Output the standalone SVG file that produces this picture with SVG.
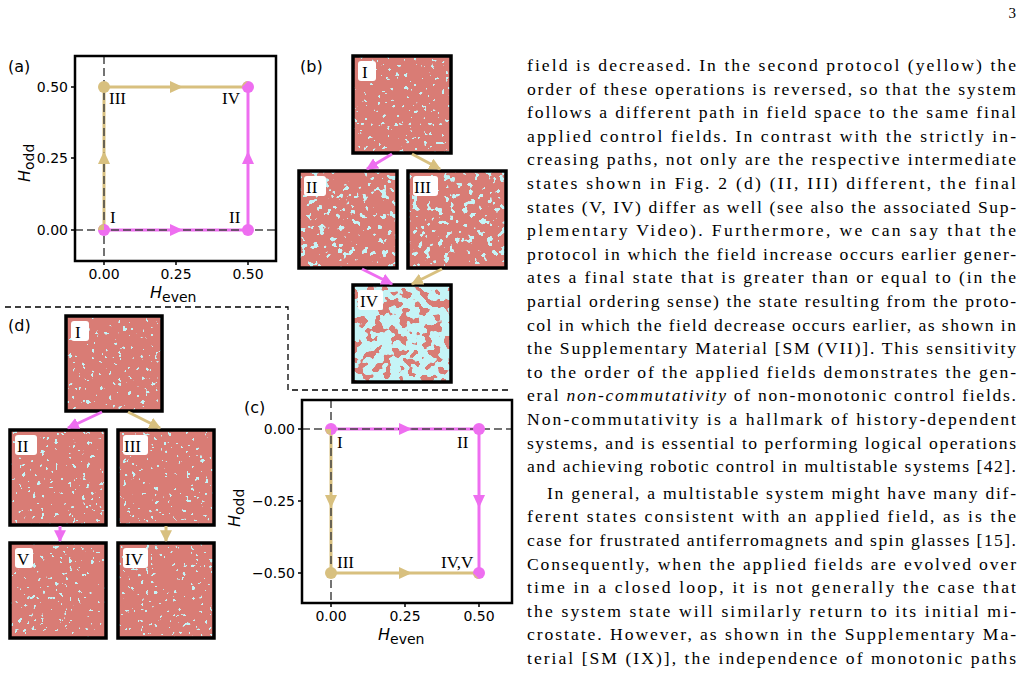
<svg xmlns="http://www.w3.org/2000/svg" width="1026" height="677" viewBox="0 0 1026 677">
<style>
.frame{fill:none;stroke:#000;stroke-width:2.5}
.tile{stroke:#000;stroke-width:3.5}
.ax{stroke:#444;stroke-width:2;stroke-dasharray:8 4;opacity:.75;fill:none}
.mg{stroke:#ee6ef0;stroke-width:3;fill:none}
.tn{stroke:#d8c07f;stroke-width:3;fill:none}
.tk{font-family:"DejaVu Sans",sans-serif;font-size:14px;fill:#000}
.pl{font-family:"DejaVu Sans",sans-serif;font-size:16px;fill:#000}
.rn{font-family:"Liberation Serif","DejaVu Serif",serif;font-size:17px;fill:#000}
.bt{font-family:"Liberation Serif",serif;font-size:17.6px;fill:#000}
.lab{fill:#fff}
.dash{fill:none;stroke:#000;stroke-width:1.3;stroke-dasharray:6 4}
</style>
<defs>
<filter id="sparse" x="0" y="0" width="1" height="1">
<feTurbulence type="fractalNoise" baseFrequency="0.22" numOctaves="2" seed="3" result="n"/>
<feColorMatrix in="n" type="matrix" values="0 0 0 0 0.56 0 0 0 0 0.9 0 0 0 0 0.92 1 0 0 0 0" result="c"/>
<feComponentTransfer in="c"><feFuncA type="linear" slope="40" intercept="-27.6"/></feComponentTransfer>
<feComposite in2="SourceGraphic" operator="over"/>
</filter>
<filter id="mid" x="0" y="0" width="1" height="1">
<feTurbulence type="fractalNoise" baseFrequency="0.16" numOctaves="2" seed="7" result="n"/>
<feColorMatrix in="n" type="matrix" values="0 0 0 0 0.56 0 0 0 0 0.9 0 0 0 0 0.92 1 0 0 0 0" result="c"/>
<feComponentTransfer in="c"><feFuncA type="linear" slope="40" intercept="-24.8"/></feComponentTransfer>
<feComposite in2="SourceGraphic" operator="over"/>
</filter>
<filter id="dense" x="0" y="0" width="1" height="1">
<feTurbulence type="fractalNoise" baseFrequency="0.12" numOctaves="2" seed="11" result="n"/>
<feColorMatrix in="n" type="matrix" values="0 0 0 0 0.56 0 0 0 0 0.9 0 0 0 0 0.92 1 0 0 0 0" result="c"/>
<feComponentTransfer in="c"><feFuncA type="linear" slope="40" intercept="-17.4"/></feComponentTransfer>
<feComposite in2="SourceGraphic" operator="over"/>
</filter>
<marker id="hm" viewBox="0 0 10 10" refX="9" refY="5" markerWidth="4" markerHeight="4" orient="auto" markerUnits="strokeWidth"><path d="M0,0L10,5L0,10z" fill="#ee6ef0"/></marker>
<marker id="ht" viewBox="0 0 10 10" refX="9" refY="5" markerWidth="4" markerHeight="4" orient="auto" markerUnits="strokeWidth"><path d="M0,0L10,5L0,10z" fill="#d8c07f"/></marker>
<polygon id="tr" points="-6,-6 7,0 -6,6"/>
</defs>
<rect width="1026" height="677" fill="#fff"/>
<text x="1016" y="18" font-family="Liberation Serif, serif" font-size="15" text-anchor="end">3</text>

<path class="dash" d="M5,307H288V390H512"/>

<g id="panel-a">
<text x="8" y="72" class="pl">(a)</text>
<line class="tn" x1="104" y1="230" x2="104" y2="87"/><line class="tn" x1="104" y1="87" x2="248" y2="87"/>
<line class="mg" x1="104" y1="230" x2="248" y2="230"/><line class="mg" x1="248" y1="230" x2="248" y2="87"/>
<line class="ax" x1="104" y1="56" x2="104" y2="261"/><line class="ax" x1="75" y1="230" x2="276" y2="230"/>
<use href="#tr" fill="#d8c07f" transform="translate(104,158) rotate(-90)"/>
<use href="#tr" fill="#d8c07f" transform="translate(176,87)"/>
<use href="#tr" fill="#ee6ef0" transform="translate(176,230)"/>
<use href="#tr" fill="#ee6ef0" transform="translate(248,158) rotate(-90)"/>
<circle cx="104" cy="87" r="6" fill="#d8c07f"/>
<circle cx="104" cy="230" r="6" fill="#ee6ef0"/><path d="M98,230A6,6 0 0 1 104,224V230z" fill="#d8c07f"/>
<circle cx="248" cy="87" r="6" fill="#ee6ef0"/><path d="M242,87A6,6 0 0 1 248,81z" fill="#d8c07f"/>
<circle cx="248" cy="230" r="6" fill="#ee6ef0"/>
<rect class="frame" x="75" y="56" width="201" height="205"/>
<path d="M71,87h4M71,158h4M71,230h4M104,261v4M176,261v4M248,261v4" stroke="#000" stroke-width="1.5"/>
<text x="68" y="92" class="tk" text-anchor="end">0.50</text>
<text x="68" y="163" class="tk" text-anchor="end">0.25</text>
<text x="68" y="235" class="tk" text-anchor="end">0.00</text>
<text x="104" y="279" class="tk" text-anchor="middle">0.00</text>
<text x="176" y="279" class="tk" text-anchor="middle">0.25</text>
<text x="248" y="279" class="tk" text-anchor="middle">0.50</text>
<text x="150" y="298" class="pl" font-size="19"><tspan font-style="italic">H</tspan><tspan font-size="14" dy="4">even</tspan></text>
<text transform="translate(30,182) rotate(-90)" class="pl" font-size="19"><tspan font-style="italic">H</tspan><tspan font-size="14" dy="4">odd</tspan></text>
<text x="109" y="104" class="rn">III</text>
<text x="222" y="104" class="rn">IV</text>
<text x="110" y="223" class="rn">I</text>
<text x="229" y="223" class="rn">II</text>
</g>

<g id="panel-c">
<text x="244" y="413" class="pl">(c)</text>
<line class="tn" x1="331" y1="429" x2="331" y2="573"/><line class="tn" x1="331" y1="573" x2="479" y2="573"/>
<line class="mg" x1="331" y1="429" x2="479" y2="429"/><line class="mg" x1="479" y1="429" x2="479" y2="573"/>
<line class="ax" x1="331" y1="400" x2="331" y2="603"/><line class="ax" x1="302" y1="429" x2="512" y2="429"/>
<use href="#tr" fill="#d8c07f" transform="translate(331,501) rotate(90)"/>
<use href="#tr" fill="#d8c07f" transform="translate(405,573)"/>
<use href="#tr" fill="#ee6ef0" transform="translate(405,429)"/>
<use href="#tr" fill="#ee6ef0" transform="translate(479,501) rotate(90)"/>
<circle cx="331" cy="429" r="6" fill="#ee6ef0"/><path d="M325,429A6,6 0 0 0 331,435V429z" fill="#d8c07f"/>
<circle cx="331" cy="573" r="6" fill="#d8c07f"/>
<circle cx="479" cy="429" r="6" fill="#ee6ef0"/>
<circle cx="479" cy="573" r="6" fill="#ee6ef0"/><path d="M473,573A6,6 0 0 0 479,579z" fill="#d8c07f"/>
<rect class="frame" x="302" y="400" width="210" height="203"/>
<path d="M298,429h4M298,501h4M298,573h4M331,603v4M405,603v4M479,603v4" stroke="#000" stroke-width="1.5"/>
<text x="295" y="434" class="tk" text-anchor="end">0.00</text>
<text x="295" y="506" class="tk" text-anchor="end">−0.25</text>
<text x="295" y="578" class="tk" text-anchor="end">−0.50</text>
<text x="331" y="621" class="tk" text-anchor="middle">0.00</text>
<text x="405" y="621" class="tk" text-anchor="middle">0.25</text>
<text x="479" y="621" class="tk" text-anchor="middle">0.50</text>
<text x="378" y="640" class="pl" font-size="19"><tspan font-style="italic">H</tspan><tspan font-size="14" dy="4">even</tspan></text>
<text transform="translate(240,527) rotate(-90)" class="pl" font-size="19"><tspan font-style="italic">H</tspan><tspan font-size="14" dy="4">odd</tspan></text>
<text x="337" y="448" class="rn">I</text>
<text x="457" y="448" class="rn">II</text>
<text x="337" y="568" class="rn">III</text>
<text x="441" y="568" class="rn">IV,V</text>
</g>

<g id="panel-b"><text x="300" y="72" class="pl">(b)</text></g>
<g id="b-I"><rect x="353" y="56" width="98" height="97" fill="#d97b74" filter="url(#sparse)"/><rect class="tile" x="353" y="56" width="98" height="97" fill="none"/><rect class="lab" x="358" y="61" width="18" height="20" rx="3"/><text x="362" y="78" class="rn">I</text></g>
<g id="b-II"><rect x="299" y="171" width="98" height="97" fill="#d97b74" filter="url(#mid)"/><rect class="tile" x="299" y="171" width="98" height="97" fill="none"/><rect class="lab" x="304" y="176" width="22" height="20" rx="3"/><text x="306" y="193" class="rn">II</text></g>
<g id="b-III"><rect x="408" y="171" width="98" height="97" fill="#d97b74" filter="url(#mid)"/><rect class="tile" x="408" y="171" width="98" height="97" fill="none"/><rect class="lab" x="413" y="176" width="25" height="20" rx="3"/><text x="414" y="193" class="rn">III</text></g>
<g id="b-IV"><rect x="353" y="285" width="98" height="97" fill="#d97b74" filter="url(#dense)"/><rect class="tile" x="353" y="285" width="98" height="97" fill="none"/><rect class="lab" x="358" y="290" width="25" height="20" rx="3"/><text x="360" y="307" class="rn">IV</text></g>

<g id="panel-d"><text x="8" y="331" class="pl">(d)</text></g>
<g id="d-I"><rect x="66" y="316" width="96" height="95" fill="#d97b74" filter="url(#sparse)"/><rect class="tile" x="66" y="316" width="96" height="95" fill="none"/><rect class="lab" x="71" y="321" width="18" height="20" rx="3"/><text x="75" y="338" class="rn">I</text></g>
<g id="d-II"><rect x="10" y="430" width="96" height="95" fill="#d97b74" filter="url(#sparse)"/><rect class="tile" x="10" y="430" width="96" height="95" fill="none"/><rect class="lab" x="15" y="435" width="22" height="20" rx="3"/><text x="17" y="452" class="rn">II</text></g>
<g id="d-III"><rect x="118" y="430" width="96" height="95" fill="#d97b74" filter="url(#sparse)"/><rect class="tile" x="118" y="430" width="96" height="95" fill="none"/><rect class="lab" x="123" y="435" width="25" height="20" rx="3"/><text x="124" y="452" class="rn">III</text></g>
<g id="d-V"><rect x="10" y="543" width="96" height="95" fill="#d97b74" filter="url(#sparse)"/><rect class="tile" x="10" y="543" width="96" height="95" fill="none"/><rect class="lab" x="15" y="548" width="18" height="20" rx="3"/><text x="17" y="565" class="rn">V</text></g>
<g id="d-IV"><rect x="118" y="543" width="96" height="95" fill="#d97b74" filter="url(#sparse)"/><rect class="tile" x="118" y="543" width="96" height="95" fill="none"/><rect class="lab" x="123" y="548" width="25" height="20" rx="3"/><text x="125" y="565" class="rn">IV</text></g>

<g id="connectors">
<line class="mg" x1="392" y1="154" x2="367" y2="169" marker-end="url(#hm)"/>
<line class="tn" x1="412" y1="154" x2="440" y2="169" marker-end="url(#ht)"/>
<line class="mg" x1="362" y1="269" x2="392" y2="284" marker-end="url(#hm)"/>
<line class="tn" x1="442" y1="269" x2="412" y2="284" marker-end="url(#ht)"/>
<line class="mg" x1="102" y1="412" x2="68" y2="428" marker-end="url(#hm)"/>
<line class="tn" x1="128" y1="412" x2="160" y2="428" marker-end="url(#ht)"/>
<line class="mg" x1="60" y1="526" x2="60" y2="541" marker-end="url(#hm)"/>
<line class="tn" x1="166" y1="526" x2="166" y2="541" marker-end="url(#ht)"/>
</g>

<g id="body" font-family="Liberation Serif, serif" font-size="17.6">
<text class="bt" x="527" y="71" textLength="489" lengthAdjust="spacing">field is decreased.  In the second protocol (yellow) the</text>
<text class="bt" x="527" y="94.6" textLength="489" lengthAdjust="spacing">order of these operations is reversed, so that the system</text>
<text class="bt" x="527" y="118.2" textLength="489" lengthAdjust="spacing">follows a different path in field space to the same final</text>
<text class="bt" x="527" y="141.8" textLength="489" lengthAdjust="spacing">applied control fields.  In contrast with the strictly in-</text>
<text class="bt" x="527" y="165.4" textLength="489" lengthAdjust="spacing">creasing paths, not only are the respective intermediate</text>
<text class="bt" x="527" y="189" textLength="489" lengthAdjust="spacing">states shown in  Fig. 2 (d) (II, III) different, the final</text>
<text class="bt" x="527" y="212.6" textLength="489" lengthAdjust="spacing">states (V, IV) differ as well (see also the associated Sup-</text>
<text class="bt" x="527" y="236.2" textLength="489" lengthAdjust="spacing">plementary Video).  Furthermore, we can say that the</text>
<text class="bt" x="527" y="259.8" textLength="489" lengthAdjust="spacing">protocol in which the field increase occurs earlier gener-</text>
<text class="bt" x="527" y="283.4" textLength="489" lengthAdjust="spacing">ates a final state that is greater than or equal to (in the</text>
<text class="bt" x="527" y="307" textLength="489" lengthAdjust="spacing">partial ordering sense) the state resulting from the proto-</text>
<text class="bt" x="527" y="330.6" textLength="489" lengthAdjust="spacing">col in which the field decrease occurs earlier, as shown in</text>
<text class="bt" x="527" y="354.2" textLength="489" lengthAdjust="spacing">the Supplementary Material [SM  (VII)]. This sensitivity</text>
<text class="bt" x="527" y="377.8" textLength="489" lengthAdjust="spacing">to the order of the applied fields demonstrates the gen-</text>
<text class="bt" x="527" y="401.4" textLength="489" lengthAdjust="spacing">eral <tspan font-style="italic">non-commutativity</tspan> of non-monotonic control fields.</text>
<text class="bt" x="527" y="425" textLength="489" lengthAdjust="spacing">Non-commutativity is a hallmark of history-dependent</text>
<text class="bt" x="527" y="448.6" textLength="489" lengthAdjust="spacing">systems, and is essential to performing logical operations</text>
<text class="bt" x="527" y="472.2" textLength="489" lengthAdjust="spacing">and achieving robotic control in multistable systems [42].</text>
<text class="bt" x="547" y="498.8" textLength="469" lengthAdjust="spacing">In general, a multistable system might have many dif-</text>
<text class="bt" x="527" y="522.4" textLength="489" lengthAdjust="spacing">ferent states consistent with an applied field, as is the</text>
<text class="bt" x="527" y="546" textLength="489" lengthAdjust="spacing">case for frustrated antiferromagnets and spin glasses [15].</text>
<text class="bt" x="527" y="569.6" textLength="489" lengthAdjust="spacing">Consequently, when the applied fields are evolved over</text>
<text class="bt" x="527" y="593.2" textLength="489" lengthAdjust="spacing">time in a closed loop, it is not generally the case that</text>
<text class="bt" x="527" y="616.8" textLength="489" lengthAdjust="spacing">the system state will similarly return to its initial mi-</text>
<text class="bt" x="527" y="640.4" textLength="489" lengthAdjust="spacing">crostate. However, as shown in the Supplementary Ma-</text>
<text class="bt" x="527" y="664" textLength="489" lengthAdjust="spacing">terial [SM  (IX)], the independence of monotonic paths</text>
</g>
</svg>
